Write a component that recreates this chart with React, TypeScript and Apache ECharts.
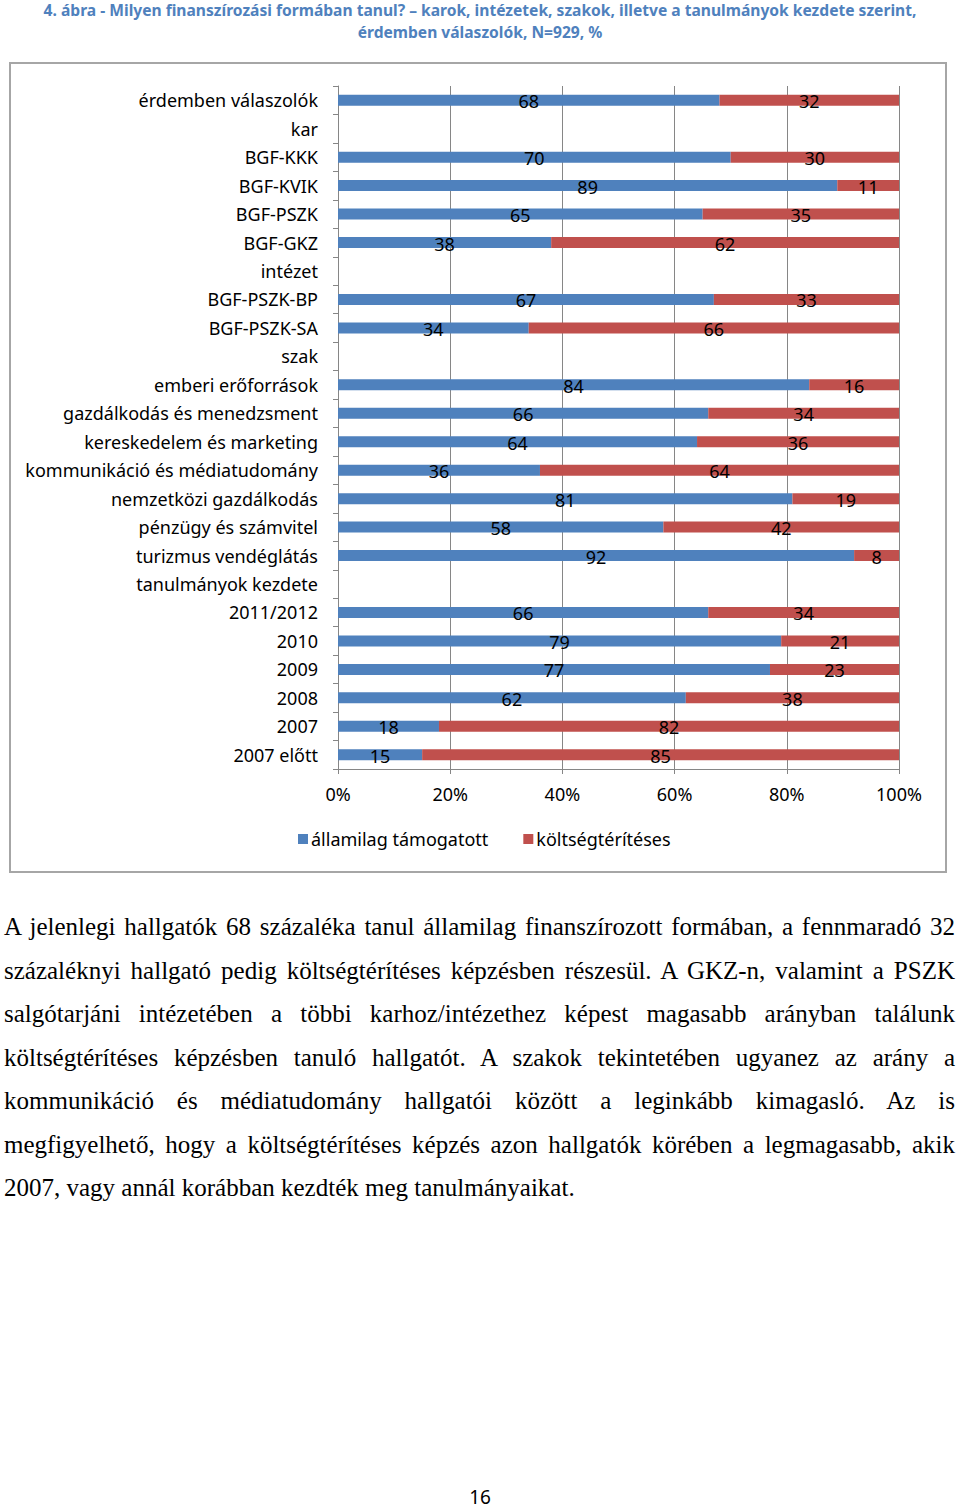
import React, { useEffect, useRef } from "react";
import * as echarts from "echarts";

const categories = [
  "érdemben válaszolók", "kar", "BGF-KKK", "BGF-KVIK", "BGF-PSZK", "BGF-GKZ",
  "intézet", "BGF-PSZK-BP", "BGF-PSZK-SA", "szak", "emberi erőforrások",
  "gazdálkodás és menedzsment", "kereskedelem és marketing",
  "kommunikáció és médiatudomány", "nemzetközi gazdálkodás",
  "pénzügy és számvitel", "turizmus vendéglátás", "tanulmányok kezdete",
  "2011/2012", "2010", "2009", "2008", "2007", "2007 előtt",
];
const allami = [68, null, 70, 89, 65, 38, null, 67, 34, null, 84, 66, 64, 36, 81, 58, 92, null, 66, 79, 77, 62, 18, 15];
const koltseg = [32, null, 30, 11, 35, 62, null, 33, 66, null, 16, 34, 36, 64, 19, 42, 8, null, 34, 21, 23, 38, 82, 85];
const seriesNames = ["államilag támogatott", "költségtérítéses"];

const titleLines = [
  "4. ábra - Milyen finanszírozási formában tanul? – karok, intézetek, szakok, illetve a tanulmányok kezdete szerint,",
  "érdemben válaszolók, N=929, %",
];
const paragraphLines = [
  "A jelenlegi hallgatók 68 százaléka tanul államilag finanszírozott formában, a fennmaradó 32",
  "százaléknyi hallgató pedig költségtérítéses képzésben részesül. A GKZ-n, valamint a PSZK",
  "salgótarjáni intézetében a többi karhoz/intézethez képest magasabb arányban találunk",
  "költségtérítéses képzésben tanuló hallgatót. A szakok tekintetében ugyanez az arány a",
  "kommunikáció és médiatudomány hallgatói között a leginkább kimagasló. Az is",
  "megfigyelhető, hogy a költségtérítéses képzés azon hallgatók körében a legmagasabb, akik",
  "2007, vagy annál korábban kezdték meg tanulmányaikat.",
];
const pageNumber = "16";

const SANS = "'Noto Sans', 'Open Sans', sans-serif";

export default function App() {
  const ref = useRef<HTMLDivElement>(null);
  useEffect(() => {
    document.body.style.margin = "0";
    const chart = echarts.init(ref.current!, null, { renderer: "svg" });
    const labelCfg = {
      show: true,
      position: "inside",
      color: "#000",
      fontSize: 18,
      fontFamily: SANS,
      offset: [0, 1],
    };
    chart.setOption({
      animation: false,
      backgroundColor: "#fff",
      graphic: [
        {
          type: "rect",
          z: -10,
          shape: { x: 10, y: 63, width: 936, height: 809 },
          style: { fill: "#fff", stroke: "#a6a6a6", lineWidth: 2 },
        },
        ...titleLines.map((t, i) => ({
          type: "text",
          x: 480,
          y: 10 + i * 22,
          style: {
            text: t,
            fontSize: 15.6,
            fontWeight: "bold",
            fontFamily: SANS,
            fill: "#4f81bd",
            align: "center",
            verticalAlign: "middle",
          },
        })),
        {
          type: "text",
          x: 480,
          y: 1497,
          style: {
            text: pageNumber,
            fontSize: 19,
            fontFamily: SANS,
            fill: "#000",
            align: "center",
            verticalAlign: "middle",
          },
        },
      ],
      legend: {
        data: seriesNames,
        left: 293,
        top: 825,
        itemWidth: 10,
        itemHeight: 10,
        itemGap: 35,
        icon: "rect",
        textStyle: { fontSize: 18, fontFamily: SANS, color: "#000", padding: [0, 0, 0, -2] },
      },
      grid: { left: 338, right: 61, top: 86, bottom: 740, containLabel: false },
      xAxis: {
        type: "value",
        min: 0,
        max: 100,
        interval: 20,
        axisLabel: {
          formatter: "{value}%",
          fontSize: 18,
          fontFamily: SANS,
          color: "#000",
          margin: 16,
        },
        axisLine: { show: true, lineStyle: { color: "#868686" } },
        axisTick: { show: true, length: 5, lineStyle: { color: "#868686" } },
        splitLine: { show: true, lineStyle: { color: "#868686", width: 1 } },
      },
      yAxis: {
        type: "category",
        inverse: true,
        data: categories,
        axisLabel: {
          fontSize: 18,
          fontFamily: SANS,
          color: "#000",
          margin: 20,
        },
        axisLine: { show: true, lineStyle: { color: "#868686" } },
        axisTick: { show: true, length: 5, lineStyle: { color: "#868686" } },
        splitLine: { show: false },
      },
      series: [
        {
          name: seriesNames[0],
          type: "bar",
          stack: "total",
          barWidth: 11,
          data: allami,
          itemStyle: { color: "#4f81bd" },
          label: labelCfg,
        },
        {
          name: seriesNames[1],
          type: "bar",
          stack: "total",
          barWidth: 11,
          data: koltseg,
          itemStyle: { color: "#c0504d" },
          label: labelCfg,
        },
      ],
    });
    return () => chart.dispose();
  }, []);

  return (
    <div style={{ position: "relative", width: 960, height: 1509, overflow: "hidden" }}>
      <div ref={ref} style={{ position: "absolute", left: 0, top: 0, width: 960, height: 1509 }} />
      <div
        style={{
          position: "absolute",
          left: 4,
          top: 905,
          width: 951,
          fontFamily: "'Liberation Serif', 'DejaVu Serif', serif",
          fontSize: 25,
          color: "#000",
        }}
      >
        {paragraphLines.map((l, i) => (
          <div
            key={i}
            style={{
              height: 43.5,
              lineHeight: "43.5px",
              whiteSpace: "nowrap",
              textAlign: i === paragraphLines.length - 1 ? "left" : "justify",
              textAlignLast: i === paragraphLines.length - 1 ? "left" : "justify",
            }}
          >
            {l}
          </div>
        ))}
      </div>
    </div>
  );
}
